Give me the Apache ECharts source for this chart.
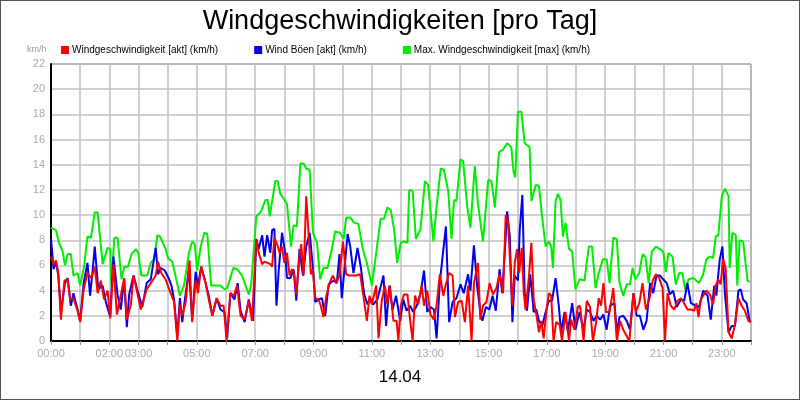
<!DOCTYPE html>
<html><head><meta charset="utf-8">
<script src="https://cdn.jsdelivr.net/npm/echarts@6/dist/echarts.min.js"></script>
<style>html,body{margin:0;padding:0;background:#fff}#c{width:800px;height:400px;box-sizing:border-box;border:1px solid #555}</style>
</head><body><div id="c"></div>
<script>
const seriesNames=['Windgeschwindigkeit [akt] (km/h)','Wind Böen [akt] (km/h)','Max. Windgeschwindigkeit [max] (km/h)'];
const tickHours=[0,2,3,5,7,9,11,13,15,17,19,21,23];
const greenT=[0,0.17,0.28,0.40,0.48,0.57,0.68,0.77,0.91,1.0,1.14,1.25,1.37,1.5,1.6,1.77,1.94,2.03,2.07,2.17,2.28,2.42,2.51,2.64,2.76,2.91,2.99,3.1,3.3,3.42,3.53,3.65,3.74,3.93,4.01,4.16,4.42,4.56,4.73,4.84,4.93,5.01,5.13,5.26,5.36,5.49,5.7,5.81,5.95,6.04,6.25,6.38,6.55,6.78,6.86,7.04,7.18,7.24,7.35,7.43,7.5,7.69,7.77,7.86,7.98,8.09,8.23,8.32,8.43,8.55,8.66,8.75,8.87,8.98,9.12,9.23,9.34,9.48,9.63,9.74,9.91,10.03,10.12,10.26,10.39,10.54,10.69,10.83,11.0,11.15,11.3,11.42,11.53,11.65,11.76,11.87,11.99,12.1,12.22,12.28,12.4,12.51,12.67,12.82,12.93,13.11,13.22,13.36,13.47,13.62,13.73,13.82,13.9,14.04,14.13,14.27,14.38,14.53,14.64,14.81,14.99,15.1,15.22,15.36,15.5,15.64,15.67,15.78,15.86,15.92,16.01,16.13,16.24,16.41,16.47,16.62,16.73,16.84,16.96,17.07,17.15,17.21,17.3,17.38,17.47,17.55,17.64,17.76,17.87,17.98,18.12,18.29,18.44,18.55,18.67,18.78,18.92,19.05,19.15,19.28,19.4,19.49,19.62,19.74,19.85,19.94,20.03,20.17,20.28,20.38,20.49,20.6,20.74,20.88,20.99,21.08,21.17,21.31,21.42,21.54,21.65,21.74,21.86,22.02,22.22,22.36,22.47,22.59,22.7,22.79,22.88,23.0,23.11,23.23,23.27,23.36,23.48,23.53,23.61,23.73,23.88,23.96];
const greenV=[9.0,8.8,7.8,7.1,6.0,6.9,6.9,5.2,5.4,4.4,6.0,8.3,8.2,10.2,10.2,6.1,7.4,7.3,4.4,8.2,8.2,4.9,5.9,5.9,6.9,7.3,7.0,5.2,5.2,6.2,6.5,8.4,8.3,7.3,6.6,6.3,3.6,4.4,7.0,7.9,7.7,5.6,7.5,8.6,8.5,4.4,4.4,4.4,4.1,4.2,5.8,5.7,5.2,3.7,4.4,9.9,10.2,10.5,11.2,11.2,9.9,12.7,12.7,11.7,11.3,10.9,7.5,9.2,9.1,14.1,14.1,13.7,13.6,8.6,7.8,4.9,5.8,5.8,7.3,8.7,8.6,8.1,9.8,9.8,9.4,9.3,7.3,6.2,4.4,7.0,9.7,9.7,10.6,10.4,8.9,6.2,7.8,7.9,7.8,12.0,11.9,8.1,8.9,12.7,12.4,7.9,10.7,13.7,13.6,11.9,8.1,11.2,11.1,14.4,14.3,10.7,9.0,13.9,10.9,7.9,12.8,12.7,10.6,15.0,15.2,15.7,15.8,15.4,13.4,13.0,18.2,18.2,15.7,15.4,11.1,12.4,12.3,9.8,7.5,7.9,7.5,5.8,11.1,11.7,11.2,8.3,9.4,7.3,7.1,4.1,4.9,4.8,7.5,7.5,4.2,5.4,6.5,6.5,4.6,8.2,8.1,4.6,3.6,4.5,4.5,5.8,4.9,5.4,6.9,6.7,4.6,7.1,7.5,7.3,7.1,5.5,7.0,6.7,4.5,5.4,5.4,4.1,4.9,5.0,4.6,5.3,6.5,6.7,6.6,8.3,8.4,11.5,12.1,11.5,5.8,8.6,8.4,4.4,8.0,7.9,4.8,4.7];
const blueT=[0,0.09,0.17,0.25,0.34,0.48,0.57,0.68,0.77,0.91,1.0,1.12,1.25,1.34,1.42,1.5,1.62,1.77,1.88,2.03,2.14,2.28,2.39,2.51,2.6,2.68,2.83,2.99,3.13,3.28,3.42,3.59,3.67,3.76,3.9,4.05,4.13,4.22,4.33,4.42,4.5,4.58,4.73,4.84,4.96,5.04,5.15,5.3,5.41,5.53,5.68,5.81,5.95,6.04,6.15,6.29,6.4,6.5,6.64,6.78,6.93,7.04,7.12,7.24,7.32,7.41,7.52,7.58,7.66,7.73,7.81,7.92,8.03,8.09,8.21,8.32,8.41,8.52,8.64,8.75,8.87,8.98,9.06,9.17,9.29,9.4,9.52,9.69,9.8,9.89,9.97,10.05,10.17,10.26,10.37,10.51,10.62,10.74,10.85,10.94,11.05,11.19,11.4,11.49,11.6,11.71,11.83,11.97,12.08,12.19,12.31,12.42,12.54,12.67,12.79,12.9,13.01,13.13,13.22,13.33,13.42,13.54,13.65,13.77,13.9,14.04,14.15,14.3,14.38,14.5,14.61,14.72,14.79,14.91,15.03,15.14,15.25,15.38,15.47,15.56,15.64,15.73,15.82,15.9,16.01,16.07,16.16,16.24,16.32,16.43,16.55,16.64,16.73,16.84,16.96,17.07,17.18,17.3,17.41,17.49,17.61,17.72,17.87,17.98,18.12,18.26,18.37,18.48,18.6,18.71,18.83,18.94,19.05,19.17,19.32,19.4,19.49,19.62,19.74,19.85,19.97,20.08,20.19,20.31,20.42,20.54,20.65,20.76,20.88,20.99,21.11,21.22,21.33,21.45,21.6,21.71,21.82,21.94,22.11,22.22,22.36,22.51,22.62,22.74,22.81,22.93,23.02,23.11,23.23,23.34,23.45,23.57,23.65,23.73,23.85,23.96];
const blueV=[8.1,5.7,6.3,5.2,2.3,4.6,5.0,2.8,3.8,2.5,1.6,4.6,6.2,3.6,5.4,7.5,4.1,4.4,3.1,1.9,6.7,3.7,2.5,4.9,1.1,3.7,5.2,3.8,2.7,4.6,4.9,7.4,5.3,5.8,5.6,4.9,4.4,3.3,0.4,3.4,1.5,3.1,5.7,1.7,5.5,4.4,5.9,4.6,3.6,2.0,3.4,2.5,2.3,0.2,3.8,3.3,4.6,2.4,1.5,3.3,1.6,8.1,7.3,8.4,6.7,8.4,7.0,8.8,8.9,2.8,5.7,8.6,7.0,5.0,5.0,5.7,3.2,7.3,5.2,7.5,8.6,5.8,3.1,3.3,3.4,2.0,4.5,4.8,4.6,6.9,3.4,5.4,8.5,7.5,5.4,7.4,5.9,3.7,2.9,3.4,2.9,3.3,5.2,1.2,4.4,2.5,3.6,1.6,3.3,2.4,2.8,2.3,2.8,3.8,5.6,2.3,2.7,2.5,0.2,4.6,6.6,9.1,1.5,3.1,3.4,4.5,3.8,5.3,4.0,7.6,4.4,2.3,1.6,2.7,2.5,3.6,2.4,5.7,3.8,7.1,10.3,8.3,1.5,5.2,4.8,8.8,11.6,3.8,2.4,5.3,2.3,2.5,1.6,1.2,2.3,3.2,3.2,5.0,2.8,0.7,2.3,0.8,3.0,0.9,2.3,0.9,2.5,2.3,1.6,2.0,1.7,2.1,0.9,2.8,3.0,0.7,1.9,2.0,1.6,0.9,3.8,2.0,2.0,0.9,1.6,4.6,3.8,5.2,5.2,4.9,4.6,3.7,4.0,2.7,3.3,3.2,4.6,3.0,2.8,2.7,4.0,3.6,1.7,4.4,3.6,6.5,7.5,3.6,0.7,1.2,1.2,4.0,4.1,3.3,3.0,1.5];
const redT=[0,0.09,0.17,0.25,0.34,0.46,0.57,0.66,0.77,0.91,1.0,1.12,1.25,1.39,1.5,1.6,1.71,1.82,1.94,2.03,2.14,2.26,2.39,2.51,2.6,2.74,2.83,3.08,3.28,3.42,3.59,3.67,3.78,3.93,4.1,4.22,4.33,4.42,4.5,4.62,4.75,4.84,4.96,5.04,5.15,5.3,5.41,5.53,5.68,5.81,5.92,6.02,6.15,6.27,6.38,6.5,6.64,6.78,6.89,7.04,7.12,7.24,7.32,7.52,7.58,7.66,7.75,7.84,7.92,8.0,8.09,8.18,8.26,8.34,8.41,8.52,8.58,8.66,8.75,8.83,8.91,8.98,9.06,9.17,9.25,9.34,9.44,9.55,9.66,9.78,9.89,10.01,10.12,10.23,10.35,10.46,10.6,10.71,10.83,10.92,11.0,11.15,11.23,11.34,11.45,11.53,11.62,11.74,11.85,11.91,11.99,12.1,12.22,12.31,12.4,12.48,12.59,12.71,12.79,12.9,13.01,13.13,13.22,13.33,13.45,13.54,13.65,13.77,13.85,13.96,14.08,14.19,14.3,14.42,14.5,14.64,14.72,14.81,14.93,15.04,15.15,15.27,15.38,15.5,15.59,15.67,15.73,15.82,15.9,15.98,16.05,16.14,16.21,16.27,16.39,16.47,16.55,16.64,16.73,16.81,16.89,16.98,17.07,17.15,17.23,17.32,17.44,17.52,17.64,17.76,17.83,17.95,18.06,18.14,18.26,18.37,18.48,18.58,18.69,18.78,18.86,18.94,19.03,19.15,19.28,19.4,19.51,19.62,19.83,19.97,20.05,20.17,20.28,20.40,20.51,20.63,20.74,20.85,20.97,21.05,21.14,21.25,21.37,21.48,21.6,21.71,21.82,21.94,22.05,22.13,22.2,22.28,22.36,22.47,22.59,22.7,22.79,22.88,22.96,23.04,23.13,23.23,23.34,23.45,23.57,23.68,23.79,23.91,24.0];
const redV=[6.7,6.1,6.4,5.4,1.7,4.8,4.9,3.3,3.4,2.4,1.5,4.1,5.4,5.0,5.9,3.8,4.8,3.3,4.0,1.8,6.1,2.1,3.6,5.0,1.7,2.9,5.2,2.5,4.1,4.6,5.2,6.3,5.4,4.9,3.8,3.1,0,2.9,2.0,3.1,6.4,1.5,4.8,3.8,5.9,4.6,3.3,2.0,3.4,2.8,2.8,0,3.8,3.6,4.4,2.0,1.7,3.2,1.6,8.1,7.0,6.1,6.3,6.1,5.9,8.2,7.7,7.0,7.5,6.2,7.0,5.2,5.7,5.3,3.7,6.7,7.7,5.2,11.5,8.6,5.3,5.7,3.4,3.3,2.8,1.9,3.6,4.6,5.2,4.6,5.2,7.9,5.3,5.2,5.2,5.2,5.3,3.6,1.6,3.6,2.9,4.4,0.2,3.2,4.4,2.9,4.4,1.6,1.6,0,2.8,3.7,3.7,1.7,0,3.6,2.9,4.4,2.8,4.0,2.1,1.7,2.8,5.3,3.6,4.5,5.4,5.2,1.9,3.1,3.2,1.5,4.4,0,4.6,6.2,1.7,2.8,3.1,4.6,3.7,4.2,5.3,3.8,10.0,9.4,6.7,2.8,6.2,7.3,5.4,7.4,3.8,2.5,5.2,7.8,3.3,2.1,0.7,1.6,0.2,2.3,3.8,3.6,0,1.5,1.3,0,2.3,0,1.7,0.9,2.7,2.8,0,3.2,2.7,0,1.5,3.4,2.8,4.6,2.3,2.3,4.2,0,1.6,0.9,0,3.8,2.3,3.0,4.6,2.5,3.3,4.8,5.3,5.0,4.2,0,3.8,2.8,2.5,3.2,3.4,3.0,2.5,2.5,2.4,3.0,1.9,3.3,3.6,4.0,3.7,2.9,4.4,4.9,4.5,6.5,5.8,0.7,0.2,1.3,3.4,2.8,2.4,1.6,1.5];
const pair=(t,v)=>t.map((x,i)=>[x,v[i]]);
const chart=echarts.init(document.getElementById('c'));
const F='Liberation Sans, Arial, sans-serif';
chart.setOption({
  animation:false,
  title:{text:'Windgeschwindigkeiten [pro Tag]',left:'center',top:2,textStyle:{fontFamily:F,fontSize:27,fontWeight:'normal',color:'#000'}},
  legend:{left:55,top:39,icon:'rect',itemWidth:8,itemHeight:8,itemGap:36,textStyle:{fontFamily:F,fontSize:10,color:'#000',padding:[0,0,0,-2]},data:seriesNames},
  graphic:[
    {type:'text',left:26,top:44,style:{text:'km/h',fontFamily:F,fontSize:9,fill:'#999'}},
    {type:'text',left:'center',top:368,style:{text:'14.04',fontFamily:F,fontSize:17,fill:'#000'}}
  ],
  grid:{left:50,right:48,top:63,bottom:58,show:true,borderColor:'#444',borderWidth:1},
  xAxis:{type:'value',min:0,max:24,interval:1,
    axisLine:{lineStyle:{color:'#000',width:2}},axisTick:{show:true,length:4,lineStyle:{color:'#999'}},
    splitLine:{show:true,lineStyle:{color:'#c0c0c0',width:1.5}},
    axisLabel:{fontFamily:F,fontSize:11,color:'#aaa',margin:7,formatter:v=>tickHours.includes(v)?String(v).padStart(2,'0')+':00':''}},
  yAxis:{type:'value',min:0,max:22,interval:2,
    axisLine:{show:true,lineStyle:{color:'#000',width:2}},axisTick:{show:false},
    splitLine:{show:true,lineStyle:{color:'#c0c0c0',width:1.5}},
    axisLabel:{fontFamily:F,fontSize:11,color:'#aaa',margin:6}},
  series:[
    {name:seriesNames[2],type:'line',data:pair(greenT,greenV),showSymbol:false,lineStyle:{width:2,color:'#00ee00'},itemStyle:{color:'#00ee00'},z:1},
    {name:seriesNames[1],type:'line',data:pair(blueT,blueV),showSymbol:false,lineStyle:{width:2,color:'#0000ee'},itemStyle:{color:'#0000ee'},z:2},
    {name:seriesNames[0],type:'line',data:pair(redT,redV),showSymbol:false,lineStyle:{width:2,color:'#ff0000'},itemStyle:{color:'#ff0000'},z:3}
  ]
});
</script></body></html>
